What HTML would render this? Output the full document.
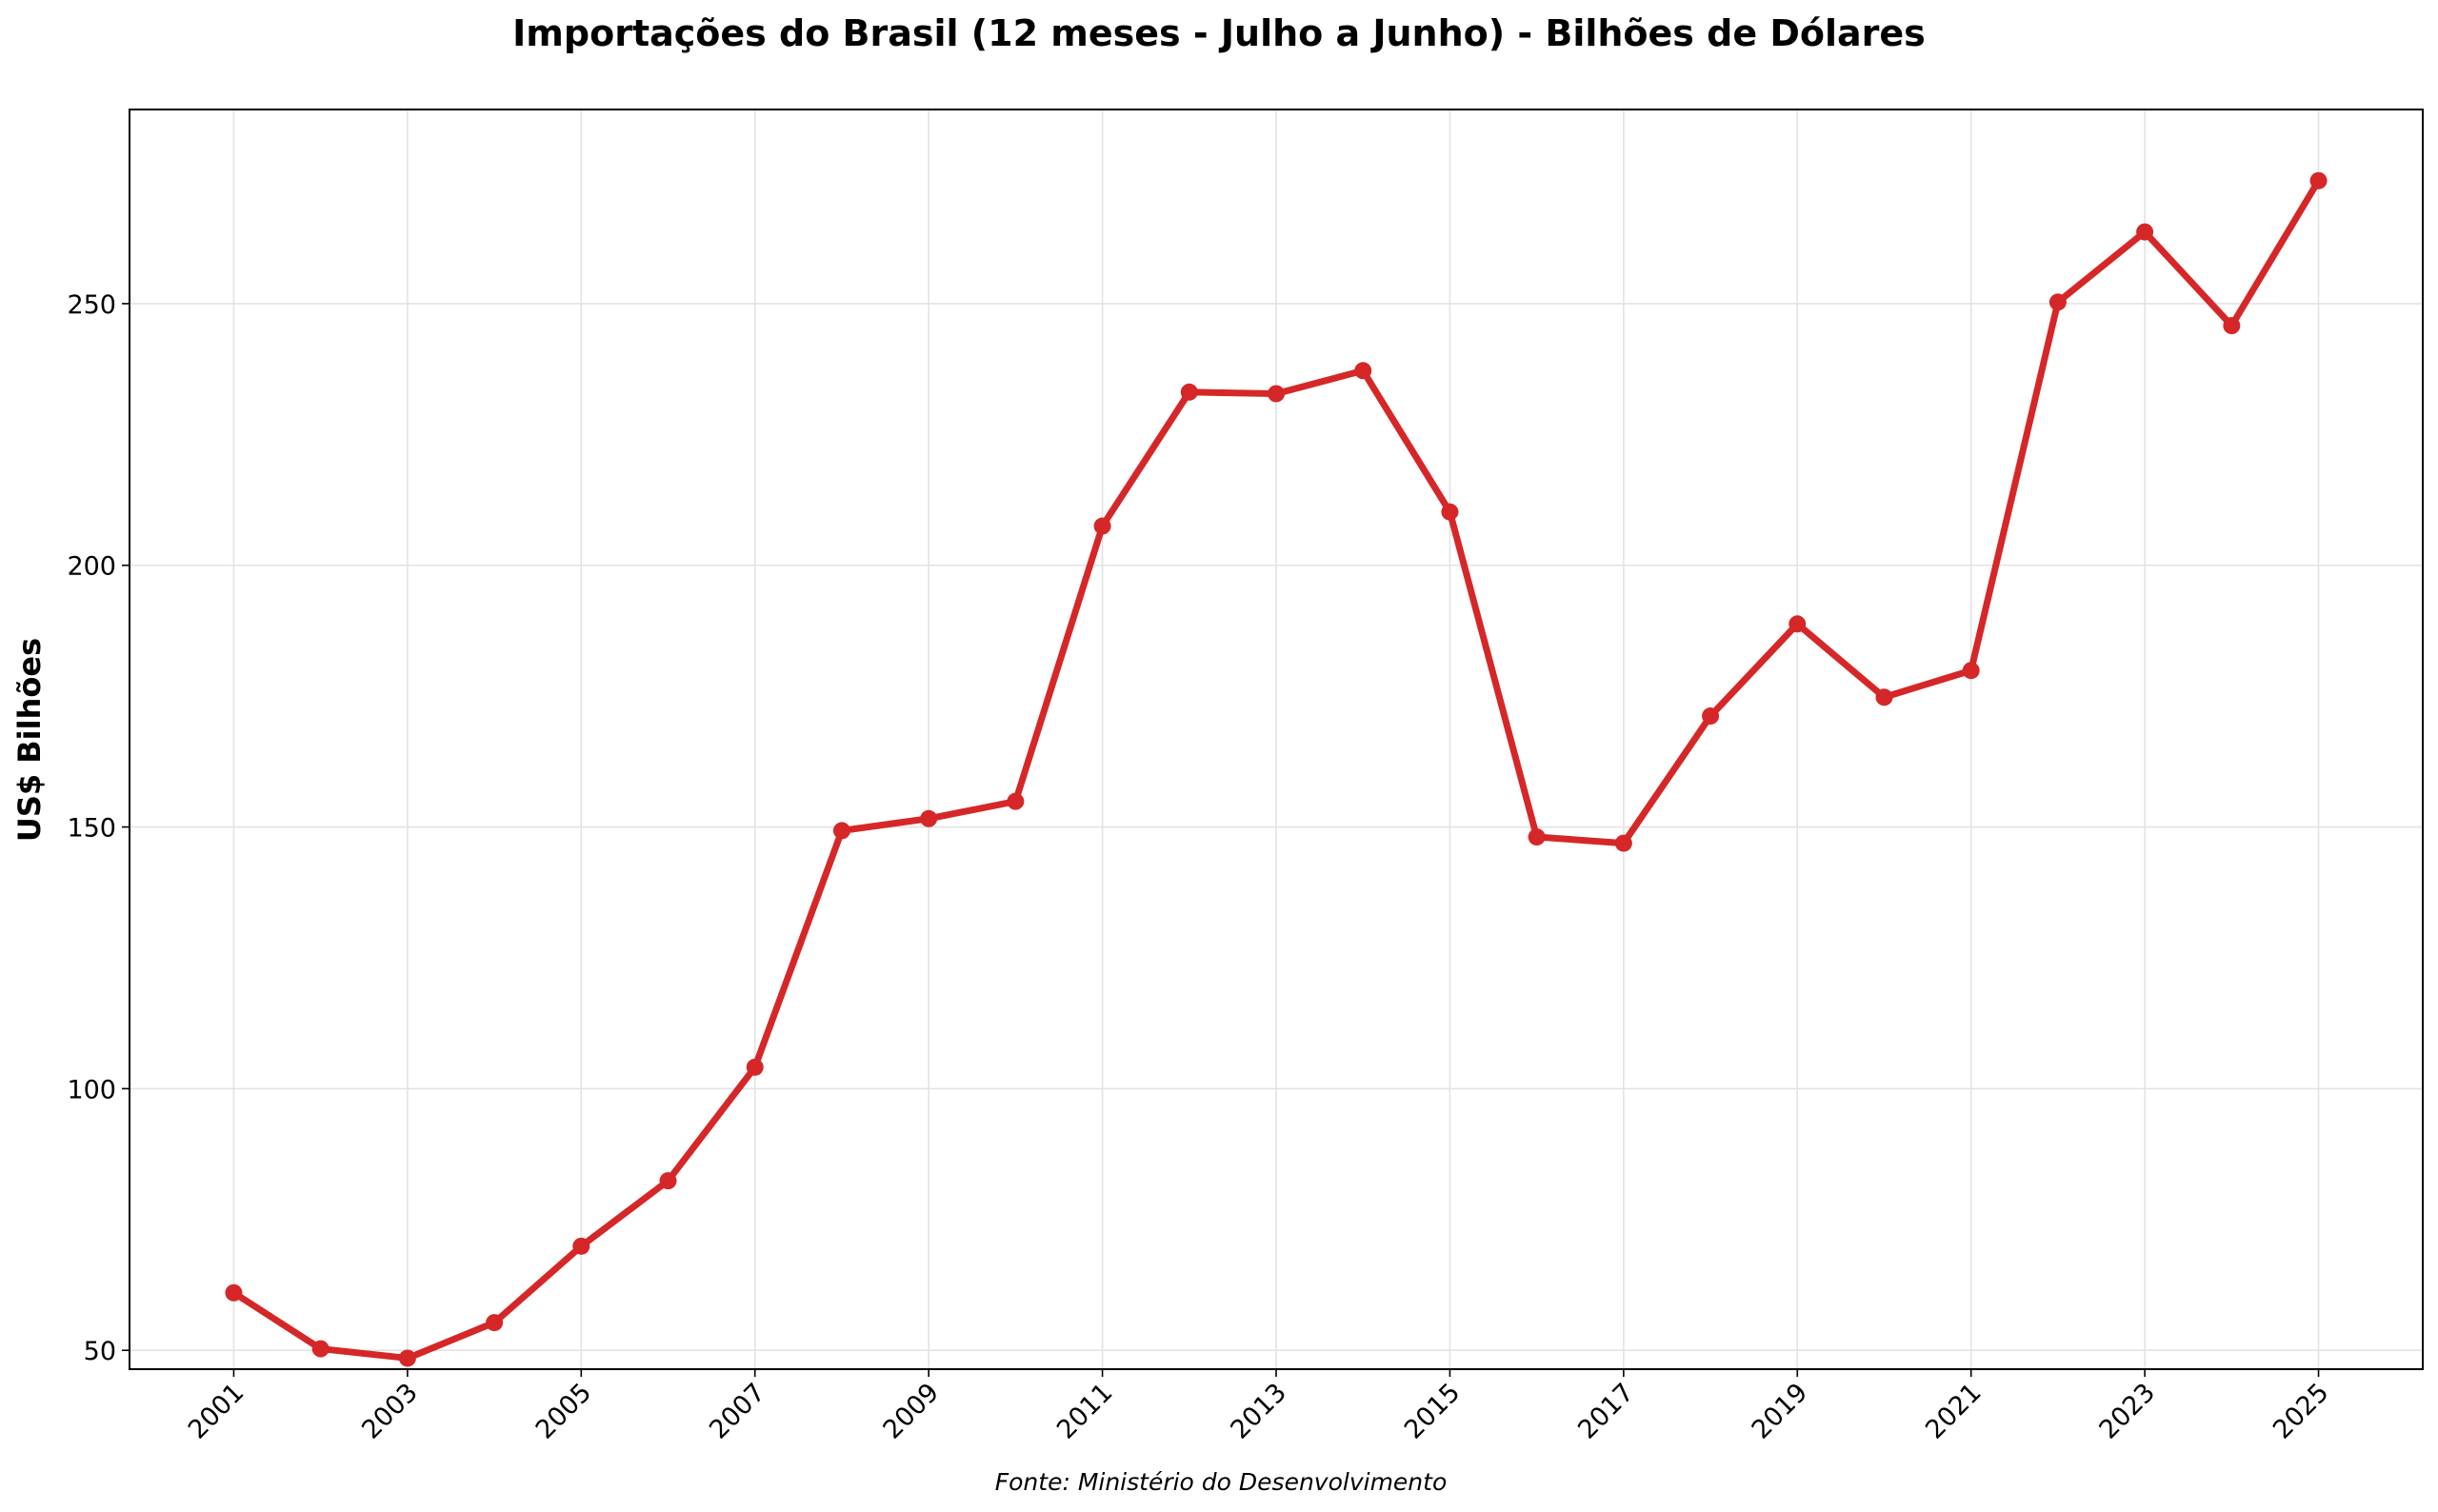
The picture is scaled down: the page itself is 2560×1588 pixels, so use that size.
<!DOCTYPE html>
<html><head><meta charset="utf-8"><style>
html,body{margin:0;padding:0;background:#fff;}
svg{display:block;font-family:"DejaVu Sans","Liberation Sans",sans-serif;}
</style></head><body>
<svg id="chart" width="2560" height="1588" viewBox="0 0 2560 1588">
<text x="1280" y="48" text-anchor="middle" font-size="38" font-weight="bold">Importações do Brasil (12 meses - Julho a Junho) - Bilhões de Dólares</text>
<g id="grid"></g>
<g id="series"></g>
<rect x="136" y="115" width="2408" height="1323" fill="none" stroke="#000" stroke-width="2"/>
<g id="xaxis"></g>
<g id="yaxis"></g>
<text transform="translate(42,777) rotate(-90)" text-anchor="middle" font-size="32" font-weight="bold">US$ Bilhões</text>
<text x="1282" y="1565" text-anchor="middle" font-size="25" font-style="italic">Fonte: Ministério do Desenvolvimento</text>
</svg>
<script>
const years = [2001,2002,2003,2004,2005,2006,2007,2008,2009,2010,2011,2012,2013,2014,2015,2016,2017,2018,2019,2020,2021,2022,2023,2024,2025];
const imports = [61,50.3,48.5,55.3,69.9,82.4,104.1,149.3,151.6,154.9,207.5,233.1,232.8,237.2,210.2,148.1,146.9,171.2,188.8,174.8,179.9,250.3,263.7,245.8,273.5];
const xTicks = [2001,2003,2005,2007,2009,2011,2013,2015,2017,2019,2021,2023,2025];
const yTicks = [50,100,150,200,250];

const NS="http://www.w3.org/2000/svg";
const L=136,R=2544,T=115,B=1438;
const xMin=1999.8,xMax=2026.2,yMin=46.4,yMax=287.1;
function xs(v){return L+(v-xMin)/(xMax-xMin)*(R-L);}
function ys(v){return B-(v-yMin)/(yMax-yMin)*(B-T);}
function mk(tag,attrs,parent){const e=document.createElementNS(NS,tag);for(const k in attrs)e.setAttribute(k,attrs[k]);parent.appendChild(e);return e;}
const grid=document.getElementById('grid'),xa=document.getElementById('xaxis'),ya=document.getElementById('yaxis'),ser=document.getElementById('series');
for(const t of xTicks){
  const x=xs(t);
  const g=mk('line',{x1:x,x2:x,y1:T,y2:B,stroke:'#e3e3e3','stroke-width':1.6},grid);
  
  
  const tk=mk('line',{x1:x,x2:x,y1:B,y2:B+8,stroke:'#000','stroke-width':1.6},xa);
  
  
  const tx=mk('text',{x:0,y:0,'font-size':27,'text-anchor':'end',transform:`translate(${x+12},${B+26}) rotate(-45)`},xa);
  tx.textContent=t;
  
  
}
for(const t of yTicks){
  const y=ys(t);
  const g=mk('line',{x1:L,x2:R,y1:y,y2:y,stroke:'#e3e3e3','stroke-width':1.6},grid);
  
  
  const tk=mk('line',{x1:L-8,x2:L,y1:y,y2:y,stroke:'#000','stroke-width':1.6},ya);
  
  
  const tx=mk('text',{x:L-14,y:y+10,'font-size':27,'text-anchor':'end'},ya);
  tx.textContent=t;
  
  
}
const pts=years.map((y,i)=>xs(y)+','+ys(imports[i])).join(' ');
const pl=mk('polyline',{points:pts,fill:'none',stroke:'#d62728','stroke-width':7,'stroke-linejoin':'round','stroke-linecap':'round'},ser);


years.forEach((y,i)=>{
  const c=mk('circle',{cx:xs(y),cy:ys(imports[i]),r:9,fill:'#d62728'},ser);
  
  
});
</script>
</body></html>
